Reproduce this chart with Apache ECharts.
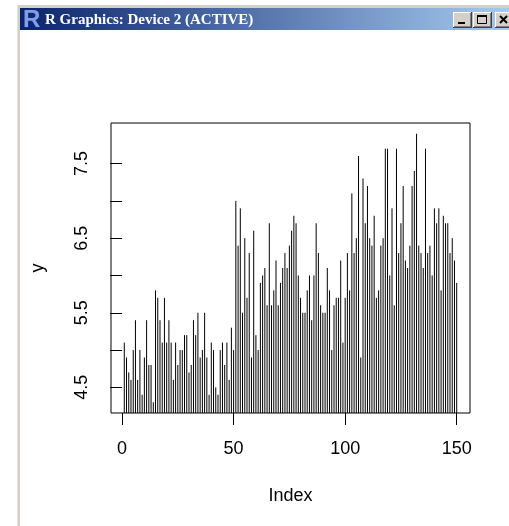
<!DOCTYPE html>
<html>
<head>
<meta charset="utf-8">
<style>
html,body{margin:0;padding:0;background:#fff;}
#chart{width:509px;height:526px;}
</style>
<script src="https://cdn.jsdelivr.net/npm/echarts@6/dist/echarts.min.js"></script>
</head>
<body>
<div id="chart"></div>
<script>
// iris Sepal.Length plotted against its index (type = "h")
const sepalLength = [
  5.1,4.9,4.7,4.6,5.0,5.4,4.6,5.0,4.4,4.9,5.4,4.8,4.8,4.3,5.8,5.7,5.4,5.1,5.7,5.1,
  5.4,5.1,4.6,5.1,4.8,5.0,5.0,5.2,5.2,4.7,4.8,5.4,5.2,5.5,4.9,5.0,5.5,4.9,4.4,5.1,
  5.0,4.5,4.4,5.0,5.1,4.8,5.1,4.6,5.3,5.0,
  7.0,6.4,6.9,5.5,6.5,5.7,6.3,4.9,6.6,5.2,5.0,5.9,6.0,6.1,5.6,6.7,5.6,5.8,6.2,5.6,
  5.9,6.1,6.3,6.1,6.4,6.6,6.8,6.7,6.0,5.7,5.5,5.5,5.8,6.0,5.4,6.0,6.7,6.3,5.6,5.5,
  5.5,6.1,5.8,5.0,5.6,5.7,5.7,6.2,5.1,5.7,
  6.3,5.8,7.1,6.3,6.5,7.6,4.9,7.3,6.7,7.2,6.5,6.4,6.8,5.7,5.8,6.4,6.5,7.7,7.7,6.0,
  6.9,5.6,7.7,6.3,6.7,7.2,6.2,6.1,6.4,7.2,7.4,7.9,6.4,6.3,6.1,7.7,6.3,6.4,6.0,6.9,
  6.7,6.9,5.8,6.8,6.7,6.7,6.3,6.5,6.2,5.9
];
const xTicks = [0, 50, 100, 150];
const yTicks = [4.5, 5.0, 5.5, 6.0, 6.5, 7.0, 7.5];
const yTickLabels = [4.5, 5.5, 6.5, 7.5];
const xTitle = 'Index';
const yTitle = 'y';
const windowTitle = 'R Graphics: Device 2 (ACTIVE)';

const points = sepalLength.map((v, i) => [i + 1, v]);

// R's default 4% axis extension
const n = sepalLength.length;
const xExt = (n - 1) * 0.04;
const xMin = 1 - xExt, xMax = n + xExt;
const yLo = Math.min(...sepalLength), yHi = Math.max(...sepalLength);
const yExt = (yHi - yLo) * 0.04;
const yMin = yLo - yExt, yMax = yHi + yExt;

const FONT = 'Liberation Sans, Arial, Helvetica, sans-serif';

const chart = echarts.init(document.getElementById('chart'), null, {renderer: 'canvas'});

function button(x, glyph) {
  const y = 12, w = 19, h = 16;
  const els = [
    {type: 'rect', shape: {x: x, y: y, width: w, height: h}, style: {fill: '#d4d0c8'}},
    {type: 'line', shape: {x1: x, y1: y + 0.5, x2: x + w, y2: y + 0.5}, style: {stroke: '#ffffff', lineWidth: 1}},
    {type: 'line', shape: {x1: x + 0.5, y1: y, x2: x + 0.5, y2: y + h}, style: {stroke: '#ffffff', lineWidth: 1}},
    {type: 'line', shape: {x1: x, y1: y + h - 0.5, x2: x + w, y2: y + h - 0.5}, style: {stroke: '#404040', lineWidth: 1}},
    {type: 'line', shape: {x1: x + w - 0.5, y1: y, x2: x + w - 0.5, y2: y + h}, style: {stroke: '#404040', lineWidth: 1}},
    {type: 'line', shape: {x1: x + 1, y1: y + h - 1.5, x2: x + w - 1, y2: y + h - 1.5}, style: {stroke: '#808080', lineWidth: 1}},
    {type: 'line', shape: {x1: x + w - 1.5, y1: y + 1, x2: x + w - 1.5, y2: y + h - 1}, style: {stroke: '#808080', lineWidth: 1}}
  ];
  if (glyph === 'min') {
    els.push({type: 'rect', shape: {x: x + 5, y: y + 10, width: 7, height: 2}, style: {fill: '#000'}});
  } else if (glyph === 'max') {
    els.push({type: 'rect', shape: {x: x + 4.5, y: y + 3.5, width: 9, height: 8}, style: {fill: 'none', stroke: '#000', lineWidth: 1}});
    els.push({type: 'rect', shape: {x: x + 4, y: y + 3, width: 10, height: 2}, style: {fill: '#000'}});
  } else {
    els.push({type: 'line', shape: {x1: x + 5, y1: y + 4, x2: x + 12, y2: y + 11}, style: {stroke: '#000', lineWidth: 2}});
    els.push({type: 'line', shape: {x1: x + 12, y1: y + 4, x2: x + 5, y2: y + 11}, style: {stroke: '#000', lineWidth: 2}});
  }
  return els;
}

const chrome = [
  {type: 'rect', shape: {x: 17, y: 5, width: 492, height: 3}, style: {fill: '#d4d0c8'}},
  {type: 'rect', shape: {x: 17, y: 5, width: 3, height: 521}, style: {fill: '#d4d0c8'}},
  {type: 'rect', shape: {x: 17, y: 5, width: 1, height: 521}, style: {fill: '#e6e3dc'}},
  {type: 'rect', shape: {x: 20, y: 8, width: 489, height: 22},
    style: {fill: new echarts.graphic.LinearGradient(0, 0, 1, 0, [
      {offset: 0, color: '#0a246a'}, {offset: 1, color: '#a6caf0'}])}},
  {type: 'text', x: 23, y: 8, style: {text: 'R', font: 'bold 24px ' + FONT, fill: '#7f9fe8', stroke: '#1b2f80', lineWidth: 1}},
  {type: 'text', x: 45, y: 20, style: {text: windowTitle, font: 'bold 15px "Liberation Serif", serif', fill: '#ffffff', verticalAlign: 'middle'}}
].concat(button(453, 'min'), button(473, 'max'), button(495, 'close'));

chart.setOption({
  animation: false,
  backgroundColor: '#ffffff',
  grid: {left: 111, right: 39, top: 123, bottom: 113, show: true, borderColor: '#000', borderWidth: 1, backgroundColor: 'transparent'},
  xAxis: {
    type: 'value', min: xMin, max: xMax,
    name: xTitle, nameLocation: 'middle', nameGap: 74,
    nameTextStyle: {fontFamily: FONT, fontSize: 18, color: '#000'},
    axisLine: {show: false},
    axisTick: {show: true, length: 12, customValues: xTicks, lineStyle: {color: '#000'}},
    axisLabel: {customValues: xTicks, margin: 27, fontFamily: FONT, fontSize: 18, color: '#000'},
    splitLine: {show: false}
  },
  yAxis: {
    type: 'value', min: yMin, max: yMax,
    name: yTitle, nameLocation: 'middle', nameGap: 64, nameRotate: 90,
    nameTextStyle: {fontFamily: FONT, fontSize: 18, color: '#000'},
    axisLine: {show: false},
    axisTick: {show: true, length: 12, customValues: yTicks, lineStyle: {color: '#000'}},
    axisLabel: {customValues: yTickLabels, rotate: 90, margin: 20, fontFamily: FONT, fontSize: 18, color: '#000',
      formatter: v => v.toFixed(1)},
    splitLine: {show: false}
  },
  series: [{
    type: 'custom',
    data: points,
    clip: true,
    renderItem: function (params, api) {
      const x = api.value(0), y = api.value(1);
      const p1 = api.coord([x, yMin]);
      const p2 = api.coord([x, y]);
      return {type: 'line', shape: {x1: p1[0], y1: p1[1], x2: p2[0], y2: p2[1]},
        style: {stroke: '#000', lineWidth: 1}};
    }
  }],
  graphic: chrome
});
</script>
</body>
</html>
